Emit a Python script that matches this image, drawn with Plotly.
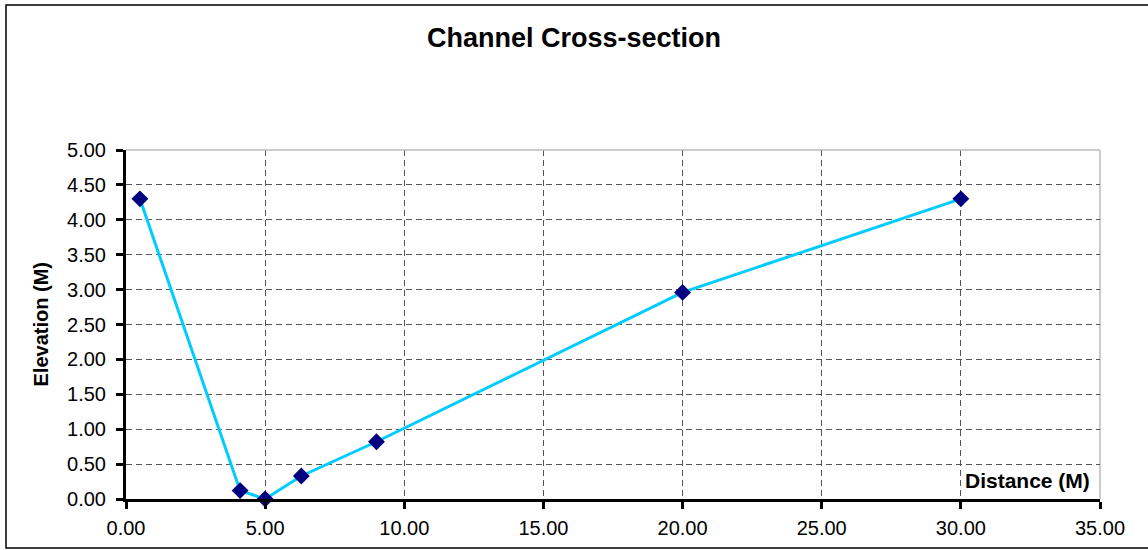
import plotly.graph_objects as go

distance = [0.5, 4.1, 5.0, 6.3, 9.0, 20.0, 30.0]
elevation = [4.30, 0.12, 0.00, 0.33, 0.82, 2.96, 4.30]

x_ticks = [0, 5, 10, 15, 20, 25, 30, 35]
y_ticks = [0, 0.5, 1.0, 1.5, 2.0, 2.5, 3.0, 3.5, 4.0, 4.5, 5.0]

title_text = "Channel Cross-section"
x_title = "Distance (M)"
y_title = "Elevation (M)"

FONT = "Liberation Sans, Arial, sans-serif"

fig = go.Figure()
fig.add_trace(go.Scatter(
    x=distance, y=elevation, mode="lines+markers",
    line=dict(color="#00CCFF", width=3),
    marker=dict(symbol="diamond", size=13, color="#000080",
                line=dict(width=0)),
    cliponaxis=False, showlegend=False, hoverinfo="skip",
))

W, H = 1148, 550
L, R, T, B = 126, 1100, 150, 499
pw, ph = R - L, B - T

def px(xp):
    return (xp - L) / pw

def py(yp):
    return (B - yp) / ph

fig.update_layout(
    width=W, height=H,
    margin=dict(l=L, r=W - R, t=T, b=H - B, pad=0),
    paper_bgcolor="white", plot_bgcolor="white",
    font=dict(family=FONT, size=20, color="black"),
    title=dict(text="<b>" + title_text + "</b>", x=0.5, xref="container",
               xanchor="center", y=1 - 38 / H, yref="container",
               yanchor="middle", font=dict(size=27, family=FONT)),
    xaxis=dict(range=[0, 35], tickvals=x_ticks,
               ticktext=[f"{v:.2f}" for v in x_ticks],
               showgrid=True, gridcolor="#555555", griddash="6px,4px", gridwidth=1,
               showline=True, linecolor="black", linewidth=3,
               ticks="outside", ticklen=7, tickwidth=3, tickcolor="black",
               zeroline=False, fixedrange=True, ticklabelstandoff=2,
               tickfont=dict(size=20)),
    yaxis=dict(range=[0, 5], tickvals=y_ticks,
               ticktext=[f"{v:.2f}" for v in y_ticks],
               showgrid=True, gridcolor="#555555", griddash="6px,4px", gridwidth=1,
               showline=True, linecolor="black", linewidth=3,
               ticks="outside", ticklen=7, tickwidth=3, tickcolor="black",
               zeroline=False, fixedrange=True, ticklabelstandoff=6,
               tickfont=dict(size=20)),
    shapes=[
        # plot area top & right border (light gray)
        dict(type="line", xref="paper", yref="paper", x0=0, x1=1, y0=1, y1=1,
             line=dict(color="#BBBBBB", width=1.5), layer="above"),
        dict(type="line", xref="paper", yref="paper", x0=1, x1=1, y0=0, y1=1,
             line=dict(color="#BBBBBB", width=1.5), layer="below"),
        # outer chart border
        dict(type="rect", xref="paper", yref="paper",
             x0=px(6), x1=px(1152), y0=py(548), y1=py(5),
             line=dict(color="black", width=1.5), fillcolor="rgba(0,0,0,0)"),
    ],
    annotations=[
        dict(text="<b>" + x_title + "</b>", xref="paper", yref="paper",
             x=px(1092), y=py(494), xanchor="right", yanchor="bottom",
             showarrow=False, font=dict(size=21, family=FONT)),
        dict(text="<b>" + y_title + "</b>", xref="paper", yref="paper",
             x=px(40), y=0.5, xanchor="center", yanchor="middle",
             textangle=-90, showarrow=False, font=dict(size=20, family=FONT)),
    ],
)

fig.write_html(
    "out.html",
    config={"displayModeBar": False, "staticPlot": True},
    post_script="document.body.style.margin='0';document.body.style.overflow='hidden';",
)
